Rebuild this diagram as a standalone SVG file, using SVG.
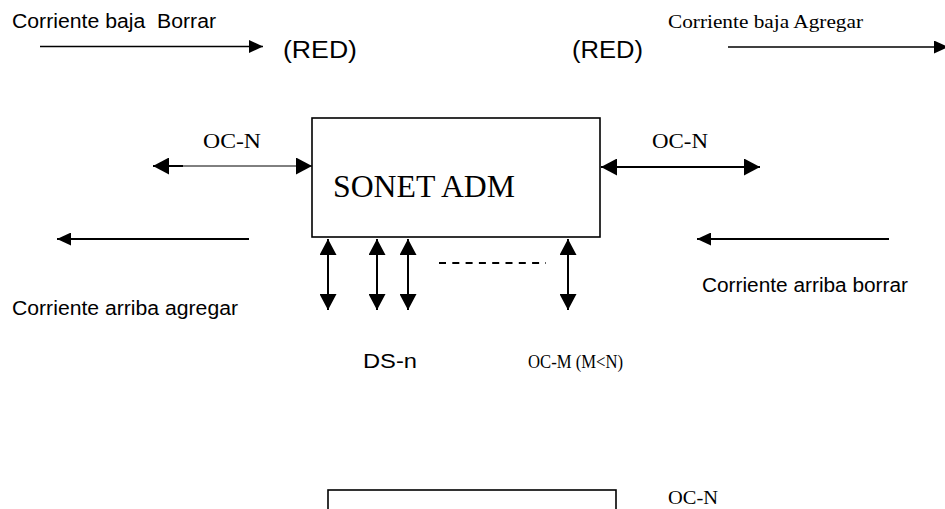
<svg xmlns="http://www.w3.org/2000/svg" width="945" height="509" viewBox="0 0 945 509">
<style>
.s{font-family:"Liberation Sans",Arial,sans-serif;fill:#000}
.r{font-family:"Liberation Serif","Times New Roman",serif;fill:#000}
.ln{stroke:#000;fill:none}
.box{fill:#fff;stroke:#000;stroke-width:1.6}
</style>
<defs>
<marker id="ah" markerUnits="userSpaceOnUse" markerWidth="16" markerHeight="17" refX="16" refY="8.5" orient="auto-start-reverse" viewBox="0 0 16 17">
<path d="M0,0 L16,8.5 L0,17 Z" fill="#000"/>
</marker>
<marker id="as" markerUnits="userSpaceOnUse" markerWidth="14" markerHeight="13" refX="14" refY="6.5" orient="auto-start-reverse" viewBox="0 0 14 13">
<path d="M0,0 L14,6.5 L0,13 Z" fill="#000"/>
</marker>
</defs>
<rect width="945" height="509" fill="#fff"/>
<g id="sonet-adm">
<rect class="box" x="312" y="118" width="288" height="119"/>
<text class="r" x="333" y="197" font-size="31" textLength="182" lengthAdjust="spacingAndGlyphs">SONET ADM</text>
</g>
<g id="bottom-box">
<rect class="box" x="328" y="490" width="288" height="40"/>
</g>
<g id="labels">
<text class="s" x="12" y="28" font-size="19.5" textLength="204" lengthAdjust="spacingAndGlyphs" xml:space="preserve">Corriente baja  Borrar</text>
<text class="s" x="283" y="58" font-size="23" textLength="74" lengthAdjust="spacingAndGlyphs">(RED)</text>
<text class="s" x="572" y="58" font-size="23" textLength="71" lengthAdjust="spacingAndGlyphs">(RED)</text>
<text class="r" x="668" y="28" font-size="19.5" textLength="195" lengthAdjust="spacingAndGlyphs">Corriente baja Agregar</text>
<text class="r" x="203" y="148" font-size="21" textLength="58" lengthAdjust="spacingAndGlyphs">OC-N</text>
<text class="r" x="652" y="148" font-size="21" textLength="56" lengthAdjust="spacingAndGlyphs">OC-N</text>
<text class="s" x="12" y="315" font-size="19.5" textLength="226" lengthAdjust="spacingAndGlyphs">Corriente arriba agregar</text>
<text class="s" x="702" y="292" font-size="19.5" textLength="206" lengthAdjust="spacingAndGlyphs">Corriente arriba borrar</text>
<text class="s" x="363" y="368" font-size="20.5" textLength="54" lengthAdjust="spacingAndGlyphs">DS-n</text>
<text class="r" x="528" y="368" font-size="18.5" textLength="95" lengthAdjust="spacingAndGlyphs">OC-M (M&lt;N)</text>
<text class="r" x="668" y="504" font-size="19" textLength="50" lengthAdjust="spacingAndGlyphs">OC-N</text>
</g>
<g id="connectors">
<line class="ln" x1="40" y1="46.5" x2="263" y2="46.5" stroke-width="1.3" marker-end="url(#as)"/>
<line class="ln" x1="728" y1="47" x2="948" y2="47" stroke-width="1.3" marker-end="url(#as)"/>
<line class="ln" x1="183" y1="166" x2="312" y2="166" stroke-width="1" marker-end="url(#ah)"/>
<line class="ln" x1="183" y1="166" x2="153" y2="166" stroke-width="2" marker-end="url(#ah)"/>
<line class="ln" x1="601" y1="167" x2="760" y2="167" stroke-width="2" marker-start="url(#ah)" marker-end="url(#ah)"/>
<line class="ln" x1="249" y1="239" x2="57" y2="239" stroke-width="2" marker-end="url(#as)"/>
<line class="ln" x1="889" y1="239" x2="697" y2="239" stroke-width="2" marker-end="url(#as)"/>
<line class="ln" x1="328" y1="239" x2="328" y2="310" stroke-width="2" marker-start="url(#ah)" marker-end="url(#ah)"/>
<line class="ln" x1="377" y1="239" x2="377" y2="310" stroke-width="2" marker-start="url(#ah)" marker-end="url(#ah)"/>
<line class="ln" x1="408" y1="239" x2="408" y2="310" stroke-width="2" marker-start="url(#ah)" marker-end="url(#ah)"/>
<line class="ln" x1="568" y1="239" x2="568" y2="310" stroke-width="2" marker-start="url(#ah)" marker-end="url(#ah)"/>
<line class="ln" x1="439" y1="263" x2="546" y2="263" stroke-width="2.2" stroke-dasharray="7 6.3"/>
</g>
</svg>
